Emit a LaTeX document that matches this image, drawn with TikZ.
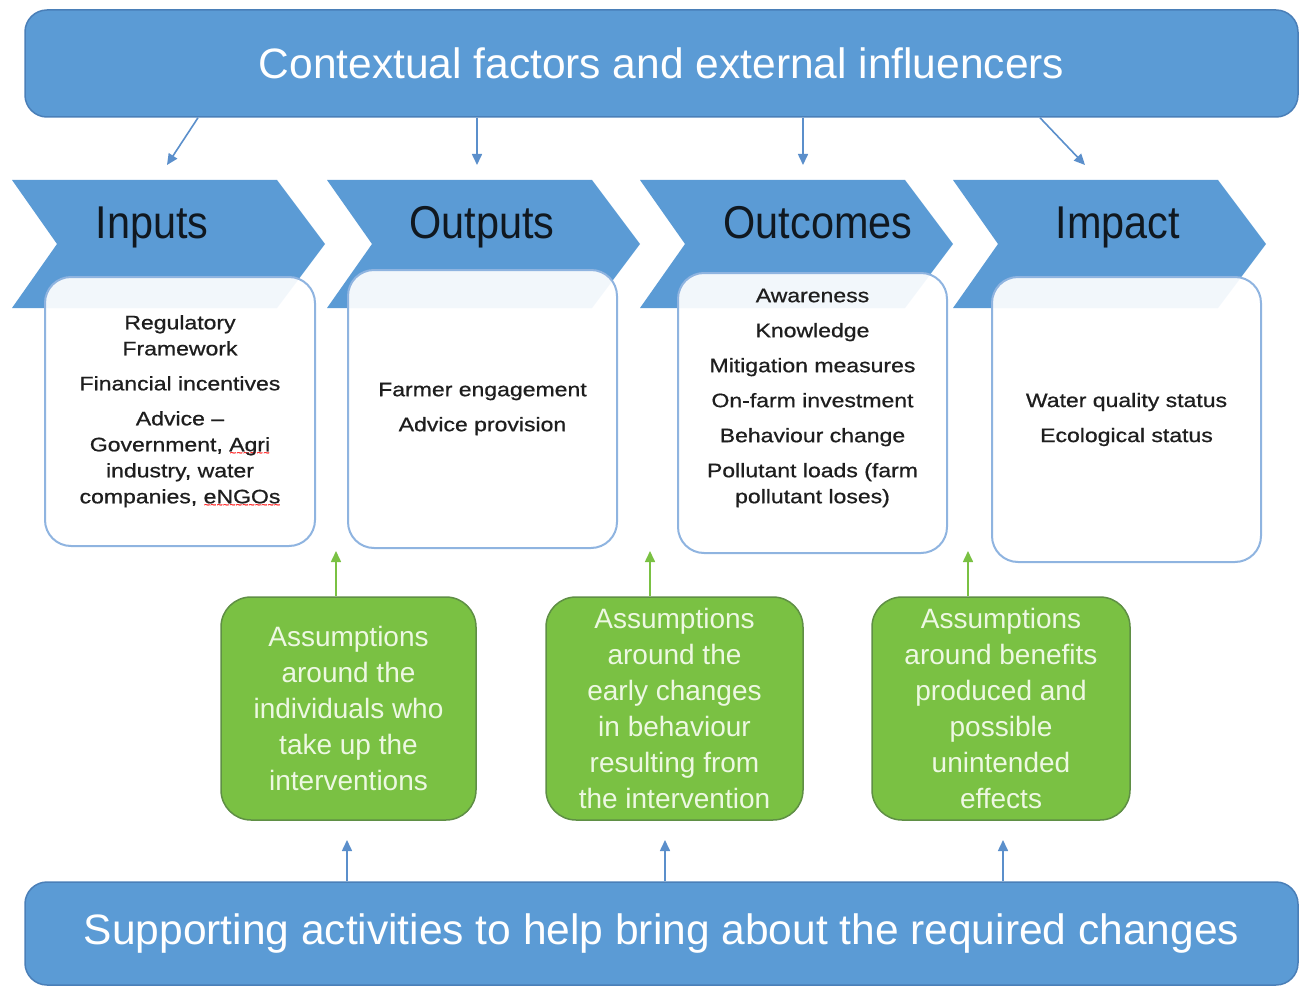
\documentclass[tikz,border=0pt]{standalone}
\usepackage{fontspec}
\setmainfont{Liberation Sans}
\newfontfamily\headfont[FakeStretch=0.9]{Liberation Sans}
\newfontfamily\itemfont[FakeStretch=1.18,FakeBold=0.8]{Liberation Sans}
\usetikzlibrary{arrows.meta,calc}

\definecolor{bandblue}{HTML}{5B9BD5}
\definecolor{bandedge}{HTML}{4A7FB8}
\definecolor{boxedge}{HTML}{8FB4E0}
\definecolor{leaf}{HTML}{7AC143}
\definecolor{leafedge}{HTML}{5F8F45}
\definecolor{leaftext}{HTML}{EDF8E2}
\definecolor{arrowblue}{HTML}{5B8FCB}
\definecolor{titleink}{HTML}{101820}
\definecolor{textgrey}{HTML}{1E1E1E}

% red squiggle under a word
\newcommand\typo[1]{\setbox0\hbox{#1}\rlap{\textcolor{red}{\lower4.5pt\hbox to\wd0{%
  \fontsize{9}{9}\selectfont\xleaders\hbox{\string~}\hfil}}}#1}

\begin{document}
\begin{tikzpicture}[x=1pt,y=-1pt,
  banner/.style={draw=bandedge,line width=1.5pt,fill=bandblue,rounded corners=22pt,
    inner sep=0pt,text=white,font=\fontsize{42.5}{50}\selectfont},
  listbox/.style={draw=boxedge,line width=2pt,fill=white,fill opacity=0.92,
    rounded corners=26pt,inner sep=0pt},
  listtext/.style={align=center,text=textgrey,font=\itemfont\fontsize{19.5}{26}\selectfont},
  assume/.style={draw=leafedge,line width=1.5pt,fill=leaf,rounded corners=30pt,
    minimum width=255pt,minimum height=223pt,inner sep=0pt,align=center,
    text=leaftext,font=\fontsize{28}{36}\selectfont},
  bluearrow/.style={draw=arrowblue,line width=1.6pt,-{Triangle[width=10pt,length=11pt]}},
  greenarrow/.style={draw=leaf,line width=1.6pt,-{Triangle[width=10pt,length=11pt]}},
  title/.style={anchor=base,text=titleink,font=\headfont\fontsize{46}{50}\selectfont}]
  \useasboundingbox (0,0) rectangle (1303,987);

  % top and bottom banners
  \node[banner,minimum width=1273pt,minimum height=107pt] (context) at (661.5,63.5)
    {Contextual factors and external influencers};
  \node[banner,minimum width=1273pt,minimum height=103pt] (support) at (661.5,933.5)
    {Supporting activities to help bring about the required changes};

  % chevrons with headings
  \foreach \x/\name/\tx/\word in {12/inputs/152/Inputs, 327/outputs/482/Outputs,
      640/outcomes/818/Outcomes, 953/impact/1118/Impact} {
    \fill[bandblue] (\x,180) -- ++(265,0) -- ++(48,64) -- ++(-48,64) -- ++(-265,0)
      -- ++(45,-64) -- cycle;
    \node[title] (\name-head) at (\tx,238) {\word};
  }

  % white list boxes
  \node[listbox,minimum width=270pt,minimum height=269pt] (inputs) at (180,411.5) {};
  \node[listbox,minimum width=269pt,minimum height=278pt] (outputs) at (482.5,409) {};
  \node[listbox,minimum width=269pt,minimum height=280pt] (outcomes) at (812.5,413) {};
  \node[listbox,minimum width=269pt,minimum height=285pt] (impact) at (1126.5,419.5) {};

  \node[listtext] (inputs-list) at (inputs.center)
    {Regulatory\\Framework\\[9pt]Financial incentives\\[9pt]Advice –\\
     Government, \typo{Agri}\\industry, water\\companies, \typo{eNGOs}};
  \node[listtext] (outputs-list) at (outputs.center)
    {Farmer engagement\\[9pt]Advice provision};
  \node[listtext] (outcomes-list) at ([yshift=15pt]outcomes.center)
    {Awareness\\[9pt]Knowledge\\[9pt]Mitigation measures\\[9pt]On-farm investment\\[9pt]
     Behaviour change\\[9pt]Pollutant loads (farm\\pollutant loses)};
  \node[listtext] (impact-list) at (impact.center)
    {Water quality status\\[9pt]Ecological status};

  % green assumption boxes
  \node[assume] (assume1) at (348.5,708.5)
    {Assumptions\\around the\\individuals who\\take up the\\interventions};
  \node[assume,minimum width=257pt] (assume2) at (674.5,708.5)
    {Assumptions\\around the\\early changes\\in behaviour\\resulting from\\the intervention};
  \node[assume,minimum width=258pt] (assume3) at (1001,708.5)
    {Assumptions\\around benefits\\produced and\\possible\\unintended\\effects};

  % arrow ends
  \coordinate (c1) at (167,165);
  \coordinate (c2) at (477,165);
  \coordinate (c3) at (803,165);
  \coordinate (c4) at (1085,165);
  \coordinate (g1) at (336,551);
  \coordinate (g2) at (650,551);
  \coordinate (g3) at (968,551);
  \coordinate (s1) at (347,840);
  \coordinate (s2) at (665,840);
  \coordinate (s3) at (1003,840);

  % arrows from the top banner
  \draw[bluearrow] ($(context.south -| c1)+(31,0)$) -- (c1);
  \draw[bluearrow] (context.south -| c2) -- (c2);
  \draw[bluearrow] (context.south -| c3) -- (c3);
  \draw[bluearrow] ($(context.south -| c4)+(-45,0)$) -- (c4);

  % arrows up from the assumptions
  \draw[greenarrow] (assume1.north -| g1) -- (g1);
  \draw[greenarrow] (assume2.north -| g2) -- (g2);
  \draw[greenarrow] (assume3.north -| g3) -- (g3);

  % arrows up from the bottom banner
  \draw[bluearrow] (support.north -| s1) -- (s1);
  \draw[bluearrow] (support.north -| s2) -- (s2);
  \draw[bluearrow] (support.north -| s3) -- (s3);
\end{tikzpicture}
\end{document}
